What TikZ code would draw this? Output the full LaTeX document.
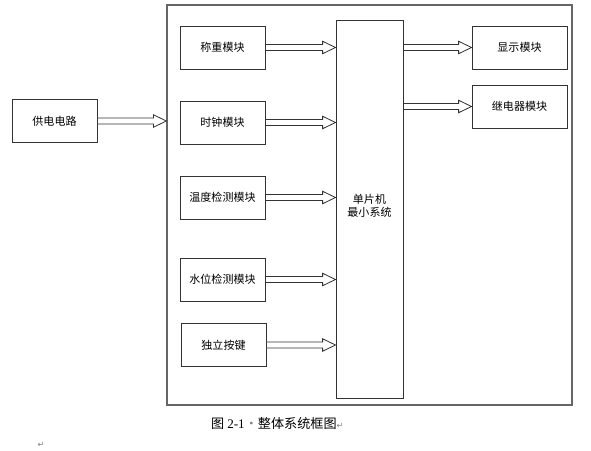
\documentclass[tikz,border=0pt]{standalone}
\usepackage{fontspec}
\newfontfamily\cjk{Noto Sans CJK SC}
\newfontfamily\latinserif{Liberation Serif}
\newfontfamily\symfont{DejaVu Sans}
\usetikzlibrary{calc}

\def\px{0.03cm}
\tikzset{
  module/.style={draw=black!80,line width=0.8pt,minimum width=85*\px,minimum height=43*\px,
    inner sep=0pt,font=\cjk\fontsize{9.4}{11}\selectfont},
  arrowline/.style={draw=black!80,line width=0.7pt,fill=white},
}

% hollow block arrow from #1 to the x of #2
\newcommand{\hollowarrow}[2]{%
  \draw[arrowline] let \p1=(#1), \p2=(#2) in
    (\x1,\y1+2.6pt) -- (\x2-11pt,\y1+2.6pt) -- (\x2-11pt,\y1+5.3pt) -- (\x2,\y1)
    -- (\x2-11pt,\y1-5.3pt) -- (\x2-11pt,\y1-2.6pt) -- (\x1,\y1-2.6pt) -- cycle;}

\begin{document}
\begin{tikzpicture}[x=\px,y=-\px]
\useasboundingbox (0,0) rectangle (591,451);

% outer system frame
\node[draw=black!60,line width=1.1pt,minimum width=405*\px,minimum height=400*\px,inner sep=0pt] (sys) at (369.5,205) {};

\node[module] (power) at (54.5,121) {供电电路};

\node[module] (weigh) at (222.5,47.5) {称重模块};
\node[module] (clock) at (222.5,122.5) {时钟模块};
\node[module] (temp) at (222.5,197.5) {温度检测模块};
\node[module] (water) at (222.5,279.5) {水位检测模块};
\node[module] (keys) at (223.5,345) {独立按键};

\node[module,minimum width=67*\px,minimum height=378*\px,align=center] (mcu) at (369.5,209)
  {\raisebox{6pt}{\shortstack{单片机\\最小系统}}};

\node[module,minimum width=95*\px] (disp) at (519.5,47.5) {显示模块};
\node[module,minimum width=95*\px] (relay) at (519.5,106.5) {继电器模块};

% arrows
\hollowarrow{power.east}{sys.west}
\foreach \m in {weigh,clock,temp,water,keys}
  \hollowarrow{\m.east}{mcu.west};
\hollowarrow{mcu.east |- disp.west}{disp.west}
\hollowarrow{mcu.east |- relay.west}{relay.west}

% caption
\node[anchor=west,inner sep=0pt,font=\cjk\fontsize{11.2}{13}\selectfont] (caption) at (211,423)
  {图 {\latinserif 2-1}\textcolor{black!50}{·}整体系统框图\textcolor{black!50}{\symfont\fontsize{7}{8}\selectfont ↵}};
\node[inner sep=0pt,text=black!50,font=\symfont\fontsize{7}{8}\selectfont] (mark) at (41,445) {↵};
\end{tikzpicture}
\end{document}
